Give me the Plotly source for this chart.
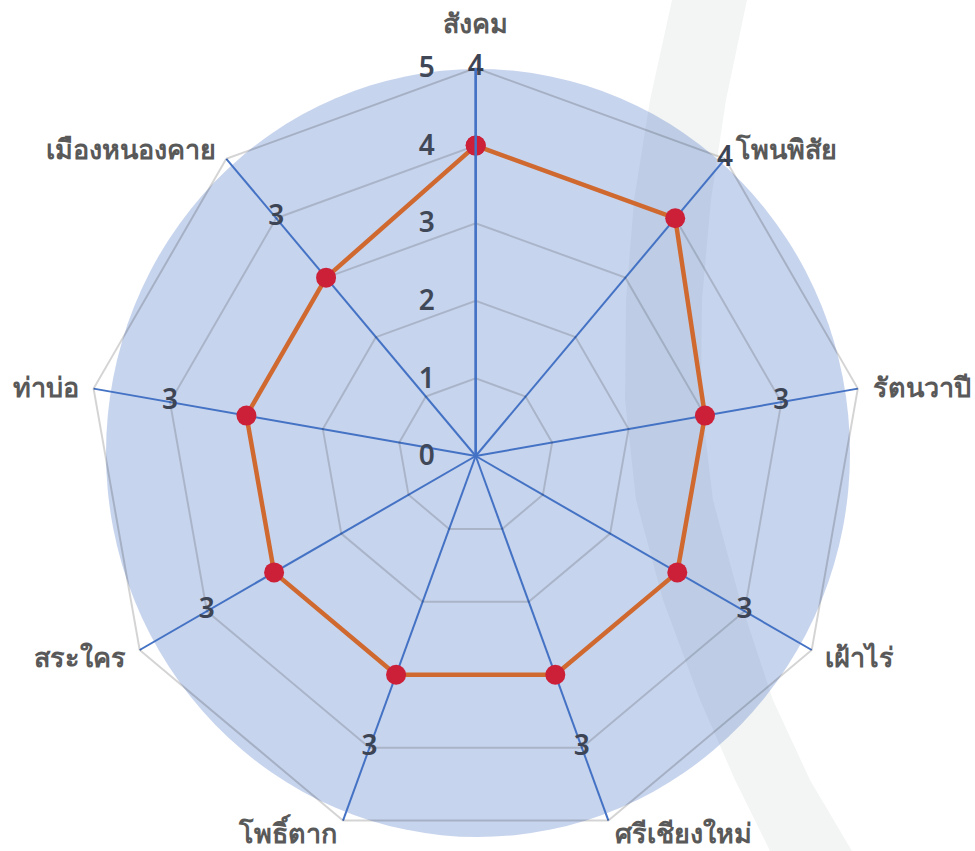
import math
import plotly.graph_objects as go

# District names around the radar, clockwise from the top
districts = ["สังคม", "โพนพิสัย", "รัตนวาปี", "เฝ้าไร่", "ศรีเชียงใหม่",
             "โพธิ์ตาก", "สระใคร", "ท่าบ่อ", "เมืองหนองคาย"]
scores = [4, 4, 3, 3, 3, 3, 3, 3, 3]
radial_ticks = [0, 1, 2, 3, 4, 5]
r_max = 5

W, H = 975, 851
FONT = "Noto Sans, Open Sans, sans-serif"


def px(x):
    return x / W


def py(y):
    return 1 - y / H


# Polar area in pixels (square domain)
cx0, cx1 = 87.7, 863.7
cy0, cy1 = 68, 844
CX, CY = (cx0 + cx1) / 2, (cy0 + cy1) / 2
RADIUS = (cx1 - cx0) / 2

# Soft grey swoosh in the page background
left_edge = [(672, 0), (650, 100), (634, 200), (626, 300), (625, 400),
             (636, 500), (663, 600), (700, 700), (735, 780), (770, 851)]
right_edge = [(747, 0), (726, 100), (711, 200), (702, 300), (701, 400),
              (713, 500), (740, 600), (773, 700), (810, 780), (852, 851)]
pts = left_edge + right_edge[::-1]
band_path = "M " + " L ".join(f"{px(x):.5f},{py(y):.5f}" for x, y in pts) + " Z"


# District names just outside the outer ring, anchored away from the centre
def district_label(i, n, name):
    ang = math.radians(90 - 360 * i / n)
    c, s = math.cos(ang), math.sin(ang)
    xanchor = "left" if c > 0.15 else ("right" if c < -0.15 else "center")
    if s > 0.95:
        yanchor, pad = "bottom", 25
    else:
        yanchor, pad = "middle", 13
    x = CX + (RADIUS + pad) * c
    y = CY - (RADIUS + pad) * s
    return dict(x=px(x), y=py(y), xref="paper", yref="paper",
                text=name, showarrow=False, xanchor=xanchor, yanchor=yanchor,
                font=dict(size=27, color="#595959", family=FONT, weight=600))


fig = go.Figure()

fig.add_trace(go.Scatterpolar(
    r=scores + scores[:1],
    theta=districts + districts[:1],
    mode="lines+markers",
    line=dict(color="#D0692F", width=4.5),
    marker=dict(size=20, color="#CC1F38"),
    showlegend=False,
    hoverinfo="skip",
))

# Score labels placed one unit beyond each point
fig.add_trace(go.Scatterpolar(
    r=[s + 1 for s in scores],
    theta=districts,
    mode="text",
    text=[str(s) for s in scores],
    textposition="middle center",
    textfont=dict(size=28, color="#3d4555", family=FONT, weight=600),
    showlegend=False,
    hoverinfo="skip",
))

fig.update_layout(
    width=W, height=H,
    margin=dict(l=0, r=0, t=0, b=0),
    paper_bgcolor="white",
    plot_bgcolor="white",
    font=dict(family=FONT),
    annotations=[district_label(i, len(districts), d) for i, d in enumerate(districts)],
    shapes=[
        dict(type="path", path=band_path, xref="paper", yref="paper",
             fillcolor="#f3f5f4", line=dict(width=0), layer="below"),
        dict(type="circle", xref="paper", yref="paper",
             x0=px(106), x1=px(850), y0=py(837), y1=py(69),
             fillcolor="rgba(68,114,196,0.3)", line=dict(width=0), layer="below"),
    ],
    polar=dict(
        domain=dict(x=[px(cx0), px(cx1)], y=[py(cy1), py(cy0)]),
        bgcolor="rgba(0,0,0,0)",
        gridshape="linear",
        angularaxis=dict(
            direction="clockwise",
            rotation=90,
            showgrid=True,
            gridcolor="#4472C4",
            gridwidth=1.5,
            showline=True,
            linecolor="rgba(0,0,0,0.17)",
            linewidth=2,
            showticklabels=False,
            ticks="",
        ),
        radialaxis=dict(
            range=[0, r_max],
            tickvals=radial_ticks,
            angle=90,
            side="counterclockwise",
            tickangle=90,
            showline=True,
            linecolor="#4472C4",
            linewidth=2.5,
            showgrid=True,
            gridcolor="rgba(0,0,0,0.15)",
            gridwidth=1.5,
            ticks="outside",
            ticklen=30,
            tickcolor="rgba(0,0,0,0)",
            tickfont=dict(size=28, color="#404858", family=FONT, weight=600),
        ),
    ),
)

fig.write_html("out.html")
